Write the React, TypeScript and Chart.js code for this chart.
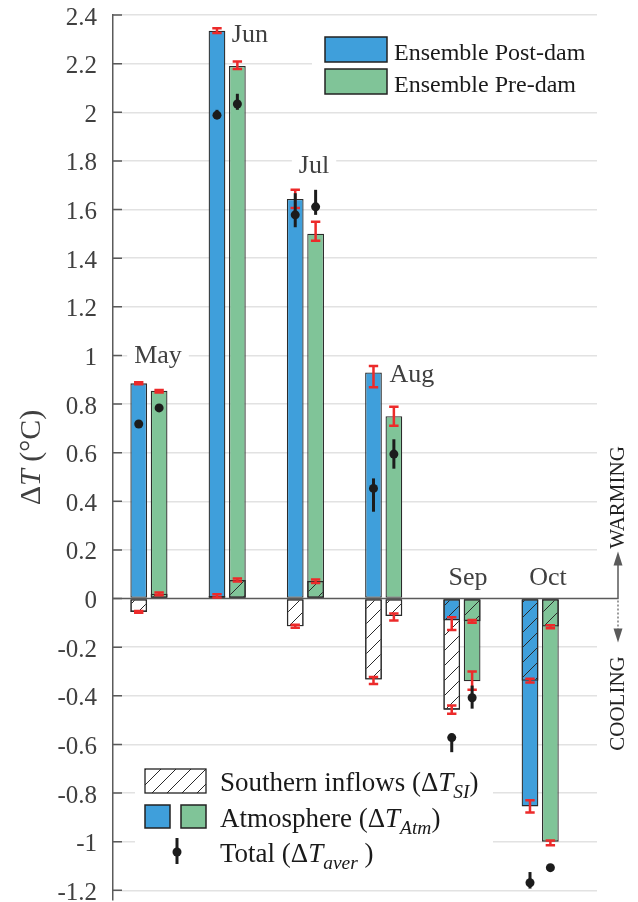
import React, { useEffect, useRef } from 'react';
import { Chart, registerables } from 'chart.js';

Chart.register(...registerables);

// ---------------- data ----------------
const months = ['May', 'Jun', 'Jul', 'Aug', 'Sep', 'Oct'];

// Atmosphere contribution (bars)
const atmPost = [0.885, 2.335, 1.643, 0.93, -0.09, -0.855];
const atmPre = [0.855, 2.19, 1.5, 0.75, -0.34, -1.0];
// Southern inflows contribution (hatched bars)
const siPost = [-0.055, 0.01, -0.114, -0.333, -0.457, -0.338];
const siPre = [0.02, 0.076, 0.072, -0.072, -0.093, -0.115];

// red error ranges
const atmPostLo = [0.881, 2.326, 1.606, 0.869, -0.129, -0.88];
const atmPostHi = [0.889, 2.346, 1.681, 0.956, -0.077, -0.83];
const atmPreLo = [0.847, 2.178, 1.472, 0.711, -0.375, -1.015];
const atmPreHi = [0.858, 2.209, 1.55, 0.789, -0.3, -0.995];
const siPostLo = [-0.059, 0.004, -0.12, -0.352, -0.474, -0.345];
const siPostHi = [-0.051, 0.018, -0.108, -0.323, -0.44, -0.33];
const siPreLo = [0.013, 0.07, 0.064, -0.09, -0.1, -0.122];
const siPreHi = [0.025, 0.082, 0.078, -0.062, -0.088, -0.11];

// totals (black dots) with ranges
const totPost = [0.718, 1.988, 1.578, 0.453, -0.572, -1.169];
const totPostLo = [0.718, 1.985, 1.527, 0.357, -0.632, -1.193];
const totPostHi = [0.718, 2.01, 1.667, 0.494, -0.572, -1.125];
const totPre = [0.784, 2.034, 1.611, 0.594, -0.408, -1.107];
const totPreLo = [0.784, 2.01, 1.578, 0.534, -0.453, -1.107];
const totPreHi = [0.784, 2.076, 1.681, 0.655, -0.358, -1.107];

// y axis ticks
const yTickValues = [-1.2, -1, -0.8, -0.6, -0.4, -0.2, 0, 0.2, 0.4, 0.6, 0.8, 1, 1.2, 1.4, 1.6, 1.8, 2, 2.2, 2.4];
const yTickLabels = ['-1.2', '-1', '-0.8', '-0.6', '-0.4', '-0.2', '0', '0.2', '0.4', '0.6', '0.8', '1', '1.2', '1.4', '1.6', '1.8', '2', '2.2', '2.4'];

// month annotation anchors (value units)
const monthLabelY = [0.969, 2.291, 1.752, 0.892, 0.055, 0.055];
const monthLabelDx = [0.116, 0.29, 0.11, 0.36, 0.077, 0.1];

const legendTop = ['Ensemble Post-dam', 'Ensemble Pre-dam'];

// ---------------- styles ----------------
const FONT = '"Liberation Serif", "Times New Roman", Times, serif';
const BLUE = '#3f9fdb';
const GREEN = '#80c498';
const EDGE = '#2b2b2b';
const RED = '#ec2a2a';
const DOT = '#1c1c1c';
const GRID = '#e2e2e2';
const AXIS = '#5a5a5a';

type Part = { t: string; italic?: boolean; sub?: boolean };

function setFont(ctx: CanvasRenderingContext2D, p: Part, size: number) {
  const fs = p.sub ? size * 0.72 : size;
  ctx.font = `${p.italic ? 'italic ' : ''}${fs}px ${FONT}`;
}
function richWidth(ctx: CanvasRenderingContext2D, parts: Part[], size: number) {
  let w = 0;
  for (const p of parts) {
    setFont(ctx, p, size);
    w += ctx.measureText(p.t).width;
  }
  return w;
}
function drawRich(ctx: CanvasRenderingContext2D, x: number, y: number, parts: Part[], size: number) {
  let cx = x;
  ctx.textAlign = 'left';
  ctx.textBaseline = 'alphabetic';
  for (const p of parts) {
    setFont(ctx, p, size);
    ctx.fillText(p.t, cx, p.sub ? y + size * 0.26 : y);
    cx += ctx.measureText(p.t).width;
  }
}

function makeHatch(ctx: CanvasRenderingContext2D) {
  const s = 15;
  const c = document.createElement('canvas');
  c.width = s;
  c.height = s;
  const g = c.getContext('2d')!;
  g.strokeStyle = '#2a2a2a';
  g.lineWidth = 1;
  g.beginPath();
  g.moveTo(-1, s + 1);
  g.lineTo(s + 1, -1);
  g.moveTo(-2, 2);
  g.lineTo(2, -2);
  g.moveTo(s - 2, s + 2);
  g.lineTo(s + 2, s - 2);
  g.stroke();
  return ctx.createPattern(c, 'repeat')!;
}

function errBar(ctx: CanvasRenderingContext2D, x: number, y1: number, y2: number) {
  const cap = 4.7;
  ctx.strokeStyle = RED;
  ctx.lineWidth = 2.5;
  ctx.beginPath();
  ctx.moveTo(x, y1);
  ctx.lineTo(x, y2);
  ctx.moveTo(x - cap, y1);
  ctx.lineTo(x + cap, y1);
  ctx.moveTo(x - cap, y2);
  ctx.lineTo(x + cap, y2);
  ctx.stroke();
}

function totalMark(ctx: CanvasRenderingContext2D, x: number, y: number, y1: number, y2: number) {
  ctx.strokeStyle = DOT;
  ctx.fillStyle = DOT;
  ctx.lineWidth = 3;
  if (Math.abs(y2 - y1) > 0.5) {
    ctx.beginPath();
    ctx.moveTo(x, y1);
    ctx.lineTo(x, y2);
    ctx.stroke();
  }
  ctx.beginPath();
  ctx.arc(x, y, 4.5, 0, Math.PI * 2);
  ctx.fill();
}

export default function App() {
  const ref = useRef<HTMLCanvasElement>(null);

  useEffect(() => {
    const canvas = ref.current!;
    const c2d = canvas.getContext('2d')!;
    const hatch = makeHatch(c2d);
    const pts = (arr: number[]) => arr.map((v, i) => ({ x: i, y: v }));
    const common = {
      borderColor: EDGE,
      borderWidth: 1.3,
      borderSkipped: false as const,
      categoryPercentage: 0.521,
      barPercentage: 0.82,
    };

    const decor = {
      id: 'decor',
      beforeDatasetsDraw(chart: any) {
        const ctx: CanvasRenderingContext2D = chart.ctx;
        const xs = chart.scales.x;
        const ys = chart.scales.y;
        const ca = chart.chartArea;
        ctx.save();
        ctx.fillStyle = '#fff';
        // legend backgrounds
        ctx.fillRect(312, 20, ca.right - 312, 88);
        ctx.fillRect(135, 755, 358, 125);
        // month label backgrounds
        ctx.font = `26px ${FONT}`;
        months.forEach((m, i) => {
          const x = xs.getPixelForValue(i + monthLabelDx[i]);
          const y = ys.getPixelForValue(monthLabelY[i]);
          const w = ctx.measureText(m).width;
          ctx.fillRect(x - w / 2 - 7, y - 22, w + 14, 28);
        });
        ctx.restore();
      },
      afterDatasetsDraw(chart: any) {
        const ctx: CanvasRenderingContext2D = chart.ctx;
        const xs = chart.scales.x;
        const ys = chart.scales.y;
        const ca = chart.chartArea;
        const Y = (v: number) => ys.getPixelForValue(v);
        const y0 = Y(0);
        const arrowX = ca.right + 21;
        ctx.save();

        // zero line + arrows
        ctx.strokeStyle = AXIS;
        ctx.fillStyle = AXIS;
        ctx.lineWidth = 1.5;
        ctx.beginPath();
        ctx.moveTo(ca.left, y0);
        ctx.lineTo(arrowX, y0);
        ctx.lineTo(arrowX, y0 - 36);
        ctx.stroke();
        ctx.beginPath();
        ctx.moveTo(arrowX, y0 - 47);
        ctx.lineTo(arrowX - 4.5, y0 - 33);
        ctx.lineTo(arrowX + 4.5, y0 - 33);
        ctx.closePath();
        ctx.fill();
        ctx.setLineDash([2, 2]);
        ctx.lineWidth = 1.2;
        ctx.beginPath();
        ctx.moveTo(arrowX, y0 + 2);
        ctx.lineTo(arrowX, y0 + 32);
        ctx.stroke();
        ctx.setLineDash([]);
        ctx.beginPath();
        ctx.moveTo(arrowX, y0 + 44);
        ctx.lineTo(arrowX - 4.5, y0 + 30);
        ctx.lineTo(arrowX + 4.5, y0 + 30);
        ctx.closePath();
        ctx.fill();

        // error bars and totals
        const mPost = chart.getDatasetMeta(2).data;
        const mPre = chart.getDatasetMeta(3).data;
        months.forEach((_, i) => {
          const xp = mPost[i].x;
          const xq = mPre[i].x;
          errBar(ctx, xp, Y(atmPostLo[i]), Y(atmPostHi[i]));
          errBar(ctx, xq, Y(atmPreLo[i]), Y(atmPreHi[i]));
          errBar(ctx, xp, Y(siPostLo[i]), Y(siPostHi[i]));
          errBar(ctx, xq, Y(siPreLo[i]), Y(siPreHi[i]));
        });
        months.forEach((_, i) => {
          totalMark(ctx, mPost[i].x, Y(totPost[i]), Y(totPostLo[i]), Y(totPostHi[i]));
          totalMark(ctx, mPre[i].x, Y(totPre[i]), Y(totPreLo[i]), Y(totPreHi[i]));
        });

        // month labels
        ctx.fillStyle = '#404040';
        ctx.font = `26px ${FONT}`;
        ctx.textAlign = 'center';
        ctx.textBaseline = 'alphabetic';
        months.forEach((m, i) => {
          ctx.fillText(m, xs.getPixelForValue(i + monthLabelDx[i]), Y(monthLabelY[i]));
        });

        // y tick marks (inward) and tick labels from the scale's ticks
        ctx.strokeStyle = AXIS;
        ctx.lineWidth = 1.5;
        ctx.beginPath();
        ys.ticks.forEach((t: any) => {
          ctx.moveTo(ca.left, Y(t.value));
          ctx.lineTo(ca.left + 9, Y(t.value));
        });
        ctx.stroke();
        ctx.fillStyle = '#404040';
        ctx.font = `25px ${FONT}`;
        ctx.textAlign = 'right';
        ctx.textBaseline = 'middle';
        ys.ticks.forEach((t: any) => {
          const k = yTickValues.findIndex((v) => Math.abs(v - t.value) < 1e-9);
          if (k >= 0) ctx.fillText(yTickLabels[k], ca.left - 16, Y(t.value) + 3);
        });

        // top legend
        ctx.lineWidth = 1.5;
        ctx.strokeStyle = '#222';
        [BLUE, GREEN].forEach((col, k) => {
          const top = 37 + k * 32;
          ctx.fillStyle = col;
          ctx.fillRect(325, top, 62, 25);
          ctx.strokeRect(325, top, 62, 25);
          ctx.fillStyle = '#1a1a1a';
          ctx.font = `24px ${FONT}`;
          ctx.textAlign = 'left';
          ctx.textBaseline = 'alphabetic';
          ctx.fillText(legendTop[k], 394, top + 23);
        });

        // bottom legend
        ctx.fillStyle = '#fff';
        ctx.fillRect(145, 769, 61, 24);
        ctx.fillStyle = hatch;
        ctx.fillRect(145, 769, 61, 24);
        ctx.strokeStyle = '#222';
        ctx.lineWidth = 1.3;
        ctx.strokeRect(145, 769, 61, 24);
        ctx.lineWidth = 1.5;
        ctx.fillStyle = BLUE;
        ctx.fillRect(145, 805, 25, 23);
        ctx.strokeRect(145, 805, 25, 23);
        ctx.fillStyle = GREEN;
        ctx.fillRect(181, 805, 25, 23);
        ctx.strokeRect(181, 805, 25, 23);
        totalMark(ctx, 177, 852, 838, 864);

        ctx.fillStyle = '#1a1a1a';
        drawRich(ctx, 220, 791, [{ t: 'Southern inflows (Δ' }, { t: 'T', italic: true }, { t: 'SI', italic: true, sub: true }, { t: ')' }], 27);
        drawRich(ctx, 220, 827, [{ t: 'Atmosphere (Δ' }, { t: 'T', italic: true }, { t: 'Atm', italic: true, sub: true }, { t: ')' }], 27);
        drawRich(ctx, 220, 862, [{ t: 'Total (Δ' }, { t: 'T', italic: true }, { t: 'aver', italic: true, sub: true }, { t: ' )' }], 27);

        // warming / cooling
        ctx.fillStyle = '#222';
        ctx.font = `21px ${FONT}`;
        ctx.textAlign = 'center';
        ctx.textBaseline = 'middle';
        ctx.save();
        ctx.translate(arrowX - 1, y0 - 101);
        ctx.rotate(-Math.PI / 2);
        ctx.fillText('WARMING', 0, 1);
        ctx.restore();
        ctx.save();
        ctx.translate(arrowX - 1, y0 + 105);
        ctx.rotate(-Math.PI / 2);
        ctx.fillText('COOLING', 0, 1);
        ctx.restore();

        // y title
        const titleParts: Part[] = [{ t: 'Δ' }, { t: 'T', italic: true }, { t: ' (°C)' }];
        const tw = richWidth(ctx, titleParts, 30);
        ctx.save();
        ctx.translate(40, (ca.top + ca.bottom) / 2);
        ctx.rotate(-Math.PI / 2);
        ctx.fillStyle = '#404040';
        drawRich(ctx, -tw / 2, 0, titleParts, 30);
        ctx.restore();

        ctx.restore();
      },
    };

    const chart = new Chart(canvas, {
      type: 'bar',
      data: {
        datasets: [
          { label: 'SI hatch post', data: pts(siPost), stack: 'post', order: 0, backgroundColor: hatch, ...common },
          { label: 'SI hatch pre', data: pts(siPre), stack: 'pre', order: 0, backgroundColor: hatch, ...common },
          { label: 'Atmosphere post-dam', data: pts(atmPost), stack: 'post', order: 1, backgroundColor: BLUE, ...common },
          { label: 'Atmosphere pre-dam', data: pts(atmPre), stack: 'pre', order: 1, backgroundColor: GREEN, ...common },
          { label: 'SI post', data: pts(siPost), stack: 'post', order: 2, backgroundColor: '#ffffff', ...common },
          { label: 'SI pre', data: pts(siPre), stack: 'pre', order: 2, backgroundColor: '#ffffff', ...common },
        ] as any,
      },
      options: {
        responsive: false,
        animation: false,
        devicePixelRatio: 1,
        layout: { padding: { left: 0, right: 41, top: 15, bottom: 2 } },
        plugins: { legend: { display: false }, tooltip: { enabled: false } },
        scales: {
          x: {
            type: 'linear',
            min: -0.459,
            max: 5.726,
            offset: false,
            display: false,
            stacked: true,
            grid: { offset: false },
            afterBuildTicks: (s: any) => {
              s.ticks = months.map((_, i) => ({ value: i }));
            },
          },
          y: {
            type: 'linear',
            min: -1.24,
            max: 2.4,
            stacked: false,
            afterBuildTicks: (s: any) => {
              s.ticks = yTickValues.map((v) => ({ value: v }));
            },
            afterFit: (s: any) => {
              s.width = 113;
              s.paddingTop = 0;
              s.paddingBottom = 0;
            },
            grid: {
              color: (c: any) => (c.tick && Math.abs(c.tick.value) < 1e-9 ? 'rgba(0,0,0,0)' : GRID),
              lineWidth: 1.5,
              drawTicks: false,
            },
            border: { display: true, color: AXIS, width: 1.5 },
            ticks: { display: false, autoSkip: false },
          },
        },
      } as any,
      plugins: [decor],
    });

    return () => chart.destroy();
  }, []);

  return (
    <div style={{ position: 'absolute', left: 0, top: 0, width: 638, height: 902, background: '#fff' }}>
      <canvas ref={ref} width={638} height={902} style={{ display: 'block' }} />
    </div>
  );
}
